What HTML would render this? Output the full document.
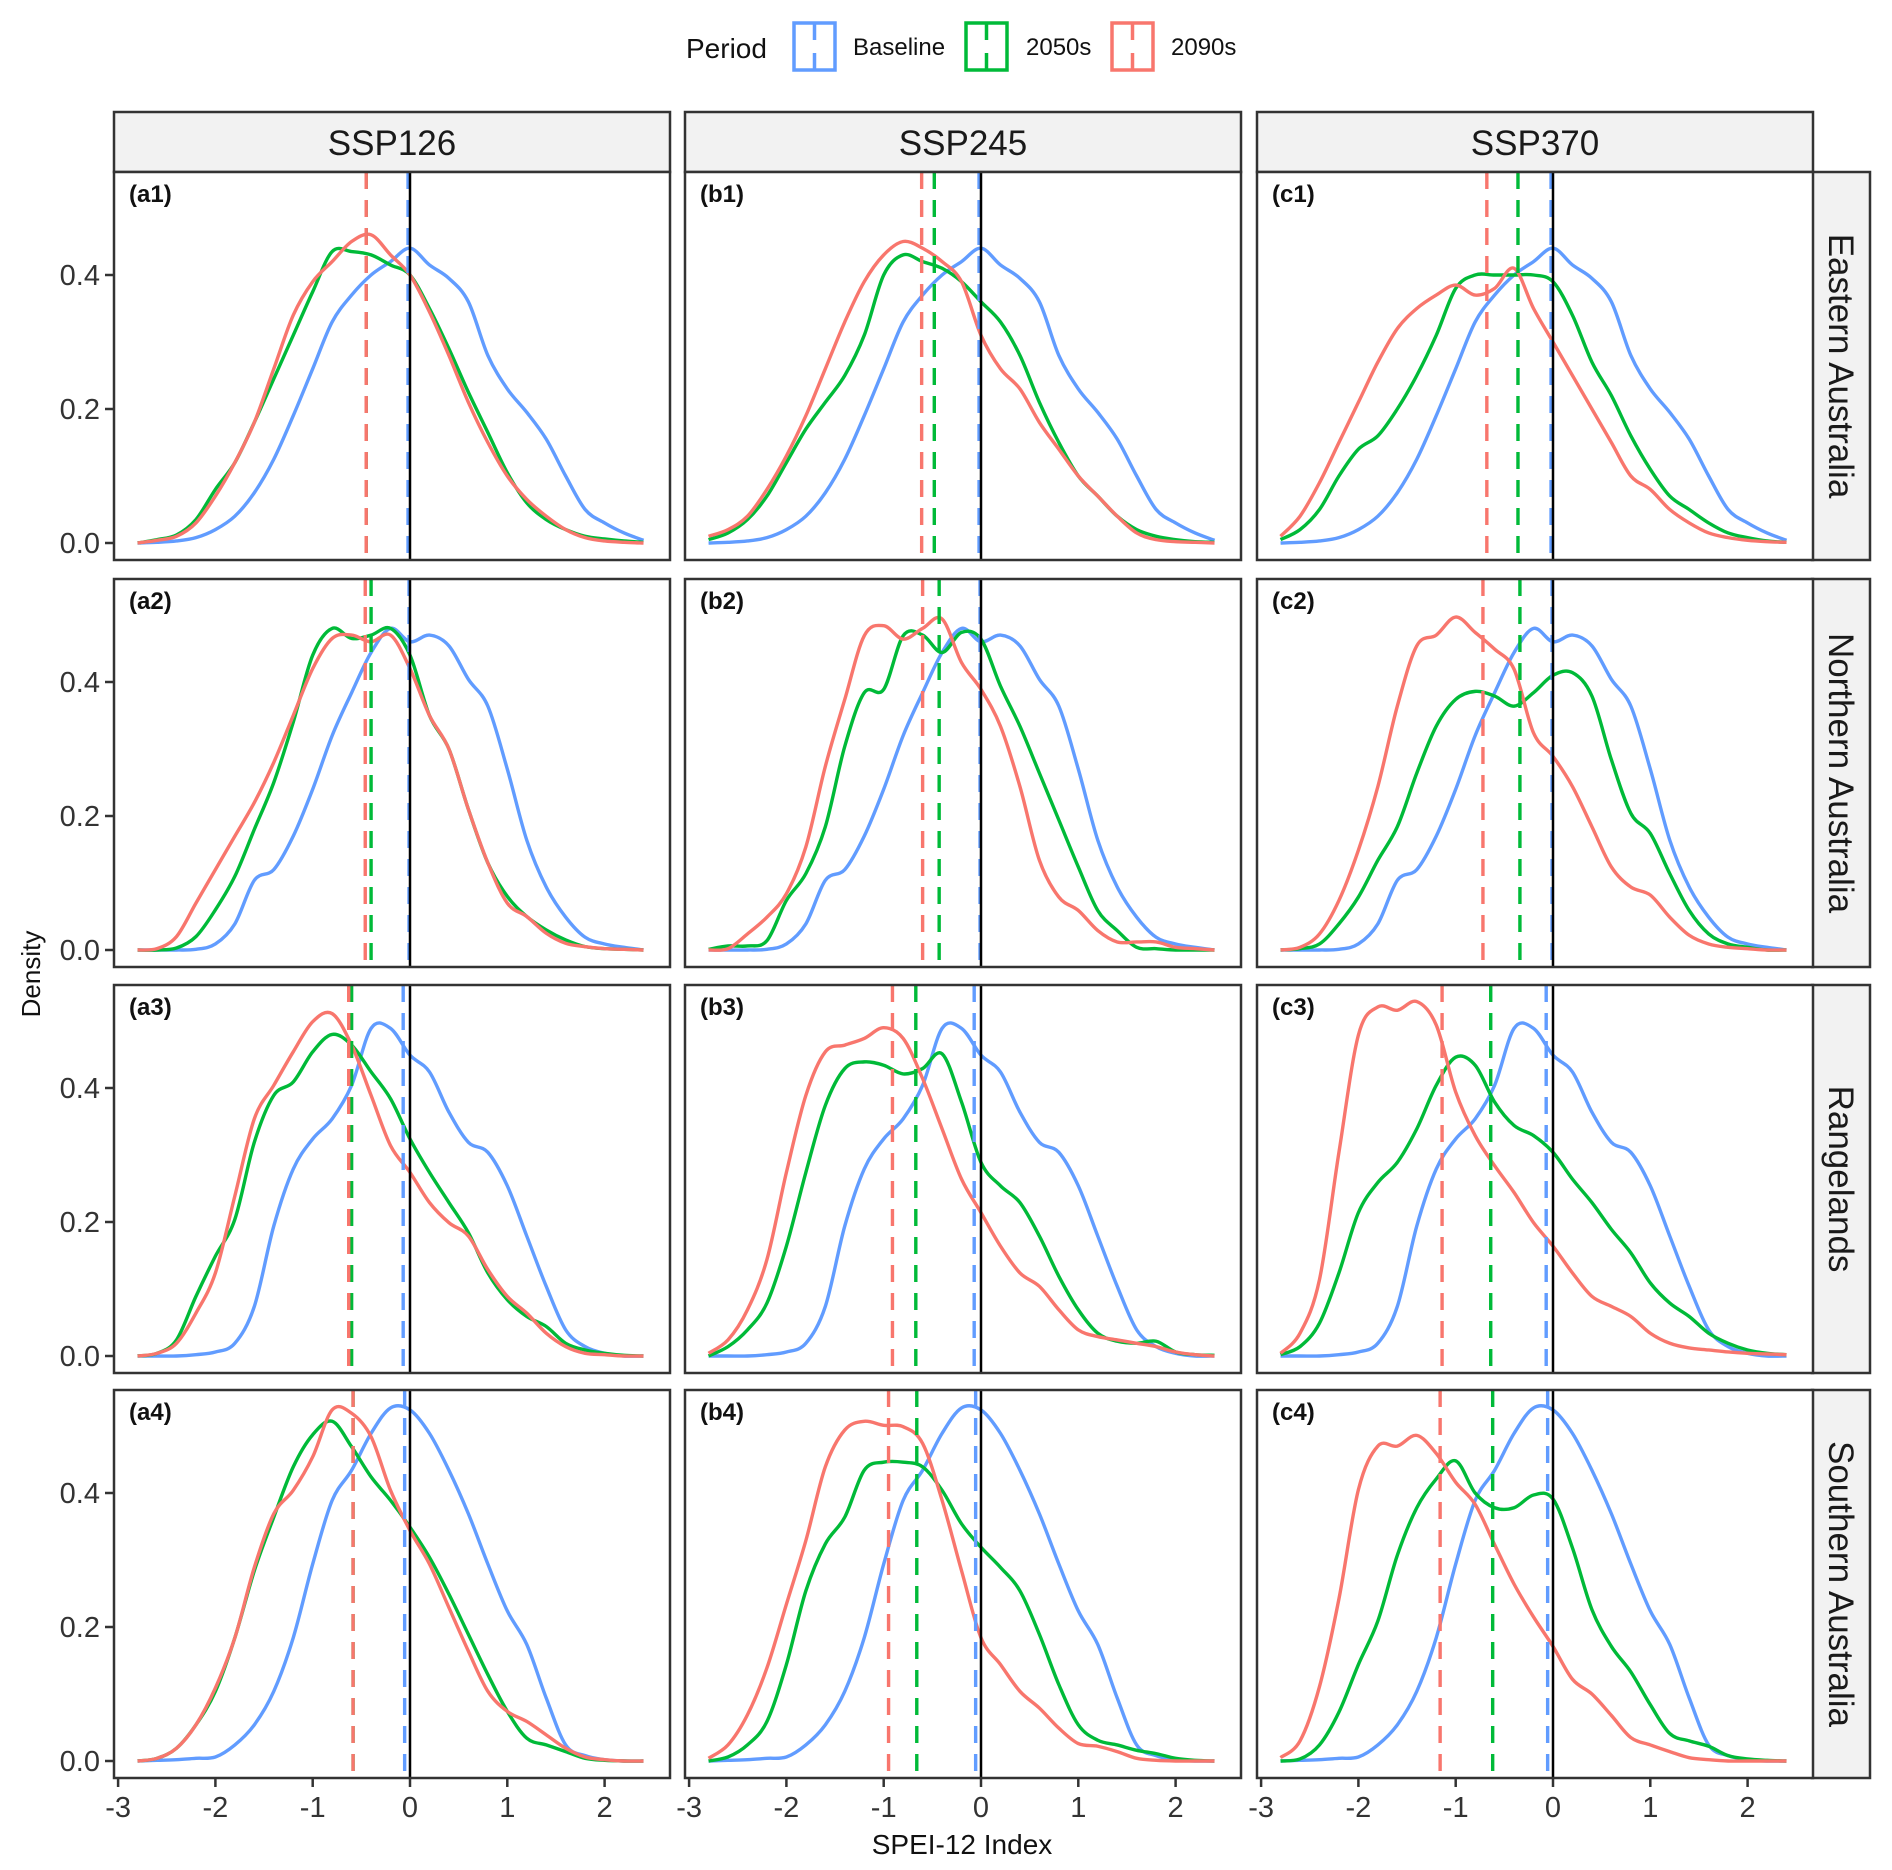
<!DOCTYPE html>
<html><head><meta charset="utf-8">
<style>
html,body{margin:0;padding:0;background:#fff;}
svg{display:block;font-family:"Liberation Sans",Arial,sans-serif;}
</style></head>
<body>
<svg id="chart" width="1892" height="1870" viewBox="0 0 1892 1870" xmlns="http://www.w3.org/2000/svg">
  <g id="legend">
    <text x="686" y="58" font-size="28" fill="#111">Period</text>
    <g>
      <rect x="794" y="23" width="41" height="47" fill="#fff" stroke="#619CFF" stroke-width="3.5"/>
      <line x1="814.5" y1="23" x2="814.5" y2="40" stroke="#619CFF" stroke-width="3.5"/>
      <line x1="814.5" y1="53" x2="814.5" y2="70" stroke="#619CFF" stroke-width="3.5"/>
      <text x="853" y="55" font-size="24" fill="#111">Baseline</text>
    </g>
    <g>
      <rect x="966" y="23" width="41" height="47" fill="#fff" stroke="#00BA38" stroke-width="3.5"/>
      <line x1="986.5" y1="23" x2="986.5" y2="40" stroke="#00BA38" stroke-width="3.5"/>
      <line x1="986.5" y1="53" x2="986.5" y2="70" stroke="#00BA38" stroke-width="3.5"/>
      <text x="1026" y="55" font-size="24" fill="#111">2050s</text>
    </g>
    <g>
      <rect x="1112" y="23" width="41" height="47" fill="#fff" stroke="#F8766D" stroke-width="3.5"/>
      <line x1="1132.5" y1="23" x2="1132.5" y2="40" stroke="#F8766D" stroke-width="3.5"/>
      <line x1="1132.5" y1="53" x2="1132.5" y2="70" stroke="#F8766D" stroke-width="3.5"/>
      <text x="1171" y="55" font-size="24" fill="#111">2090s</text>
    </g>
  </g>
  <text x="0" y="0" font-size="26" fill="#111" text-anchor="middle" transform="translate(40,974) rotate(-90)">Density</text>
  <text x="962" y="1854" font-size="28" fill="#111" text-anchor="middle">SPEI-12 Index</text>
  <g id="panels"></g>
</svg>
<script>
// ---- data ----
const xGrid = [-2.8,-2.6,-2.4,-2.2,-2.0,-1.8,-1.6,-1.4,-1.2,-1.0,-0.8,-0.6,-0.4,-0.2,0,0.2,0.4,0.6,0.8,1.0,1.2,1.4,1.6,1.8,2.0,2.2,2.4];
const scenarios = ["SSP126","SSP245","SSP370"];
const regions = ["Eastern Australia","Northern Australia","Rangelands","Southern Australia"];
const colLetters = ["a","b","c"];
const xTicks = [-3,-2,-1,0,1,2];
const yTicks = [0.0,0.2,0.4];
const yTickLabels = ["0.0","0.2","0.4"];

const baseline1 = [0,.001,.003,.008,.02,.04,.075,.125,.19,.26,.33,.37,.40,.42,.44,.415,.395,.36,.28,.23,.195,.155,.10,.05,.03,.015,.004];
const baseline2 = [0,0,0,.001,.009,.039,.104,.12,.17,.24,.32,.384,.444,.48,.46,.47,.454,.404,.364,.27,.164,.094,.049,.019,.009,.004,0];
const baseline3 = [0,0,0,.002,.006,.019,.074,.194,.279,.324,.354,.404,.489,.489,.449,.424,.364,.319,.304,.254,.179,.104,.039,.014,.004,0,0];
const baseline4 = [0,.001,.002,.004,.006,.024,.054,.104,.184,.294,.389,.434,.489,.527,.524,.489,.434,.369,.294,.224,.174,.094,.024,.008,.002,0,0];

const green_a1 = [0,.005,.012,.035,.08,.12,.18,.245,.31,.375,.435,.435,.43,.415,.40,.35,.29,.225,.165,.105,.06,.035,.02,.01,.006,.003,.001];
const red_a1   = [0,.004,.01,.03,.07,.12,.18,.26,.34,.39,.42,.45,.46,.43,.40,.345,.28,.21,.15,.10,.065,.04,.02,.008,.003,.001,0];
const green_b1 = [.005,.015,.035,.07,.12,.17,.21,.25,.31,.40,.43,.42,.41,.39,.36,.33,.28,.21,.15,.10,.07,.04,.02,.01,.005,.002,.001];
const red_b1   = [.01,.02,.04,.08,.13,.19,.26,.33,.39,.43,.45,.44,.42,.39,.31,.26,.23,.18,.14,.10,.07,.04,.015,.005,.002,.001,0];
const green_c1 = [.005,.02,.05,.1,.14,.16,.20,.25,.31,.38,.40,.40,.40,.40,.39,.34,.27,.22,.16,.11,.07,.05,.03,.015,.008,.003,.001];
const red_c1   = [.01,.04,.09,.15,.21,.27,.32,.35,.37,.385,.37,.38,.41,.35,.30,.25,.20,.15,.10,.08,.05,.03,.015,.008,.004,.002,.001];

const green_a2 = [0,0,.003,.02,.06,.11,.18,.25,.34,.44,.48,.465,.47,.48,.44,.35,.30,.21,.13,.08,.05,.03,.015,.005,.002,.001,0];
const red_a2   = [0,.002,.02,.07,.12,.17,.22,.28,.35,.42,.465,.47,.46,.47,.42,.35,.30,.21,.13,.07,.05,.025,.01,.005,.002,.001,0];
const green_b2 = [.001,.006,.006,.014,.074,.114,.184,.304,.384,.389,.469,.47,.444,.474,.464,.394,.334,.264,.194,.124,.059,.029,.004,.002,0,0,0];
const red_b2   = [0,.002,.024,.049,.084,.154,.274,.374,.469,.484,.464,.48,.494,.429,.389,.334,.244,.134,.079,.059,.029,.012,.012,.012,.004,.002,0];
const green_c2 = [0,.002,.009,.039,.079,.134,.184,.264,.334,.374,.386,.379,.364,.384,.41,.414,.379,.284,.204,.174,.114,.059,.024,.009,.004,0,0];
const red_c2   = [0,.004,.024,.074,.149,.244,.364,.454,.47,.497,.474,.449,.419,.324,.289,.244,.184,.124,.094,.082,.049,.022,.009,.004,.002,0,0];

const green_a3 = [0,.004,.024,.089,.149,.204,.319,.389,.409,.454,.48,.464,.424,.384,.324,.274,.229,.184,.124,.084,.059,.044,.019,.009,.004,.001,0];
const red_a3   = [0,.004,.019,.064,.124,.239,.354,.404,.454,.499,.511,.464,.389,.314,.274,.229,.199,.179,.129,.089,.064,.034,.014,.004,.002,0,0];
const green_b3 = [0,.014,.039,.079,.164,.274,.374,.429,.439,.434,.421,.429,.451,.379,.289,.254,.229,.179,.119,.069,.034,.022,.019,.022,.006,.002,.001];
const red_b3   = [.004,.024,.069,.144,.274,.389,.454,.464,.474,.49,.474,.414,.339,.264,.214,.164,.124,.104,.069,.039,.029,.024,.019,.014,.006,.002,0];
const green_c3 = [.002,.014,.049,.124,.214,.259,.289,.339,.404,.446,.434,.379,.344,.329,.304,.264,.229,.189,.154,.109,.079,.059,.034,.019,.009,.004,.002];
const red_c3   = [.004,.034,.114,.304,.479,.521,.516,.529,.494,.394,.329,.284,.244,.199,.164,.124,.089,.074,.059,.034,.019,.012,.009,.006,.004,.003,.002];

const green_a4 = [0,.004,.019,.054,.104,.184,.284,.364,.439,.487,.507,.469,.424,.389,.349,.304,.249,.189,.129,.074,.034,.024,.014,.004,.001,0,0];
const red_a4   = [0,.004,.019,.054,.109,.184,.289,.369,.404,.454,.524,.519,.484,.404,.344,.294,.229,.164,.104,.074,.059,.039,.019,.006,.002,0,0];
const green_b4 = [0,.006,.024,.059,.144,.254,.324,.364,.434,.446,.446,.439,.404,.354,.319,.289,.254,.189,.114,.054,.031,.024,.016,.011,.004,.001,0];
const red_b4   = [.004,.024,.069,.139,.234,.329,.439,.494,.507,.501,.499,.474,.389,.284,.184,.144,.104,.079,.049,.026,.022,.014,.004,.001,0,0,0];
const green_c4 = [0,.003,.024,.073,.144,.209,.307,.378,.421,.448,.40,.378,.378,.397,.391,.318,.226,.171,.133,.084,.041,.03,.022,.008,.003,.001,0];
const red_c4   = [.005,.03,.111,.242,.405,.47,.47,.486,.459,.416,.383,.323,.264,.215,.171,.122,.10,.068,.035,.024,.014,.005,.002,0,0,0,0];

const baselineMean = [-0.02,-0.01,-0.07,-0.055];
const green_meanA = [-0.45,-0.40,-0.60,-0.585];
const green_meanB = [-0.48,-0.43,-0.67,-0.66];
const green_meanC = [-0.36,-0.34,-0.64,-0.62];
const red_meanA = [-0.45,-0.46,-0.63,-0.585];
const red_meanB = [-0.61,-0.60,-0.91,-0.95];
const red_meanC = [-0.68,-0.72,-1.14,-1.16];

// ---- layout ----
const COLORS = {base:"#619CFF", green:"#00BA38", red:"#F8766D"};
const panelLeft = [114,685,1257];
const panelTop = [172,579,985,1390];
const PW = 556, PH = 388;
const X0OFF = 296, XUNIT = 97.3, Y0OFF = 371, YUNIT = 670;
const NS = "http://www.w3.org/2000/svg";
const root = document.getElementById('panels');

function mk(tag, attrs, parent){
  const e = document.createElementNS(NS, tag);
  for (const k in attrs) e.setAttribute(k, attrs[k]);
  (parent||root).appendChild(e);
  return e;
}
function xScale(c, v){ return panelLeft[c] + X0OFF + v*XUNIT; }
function yScale(r, v){ return panelTop[r] + Y0OFF - v*YUNIT; }
function smoothPath(pts){
  let d = "M"+pts[0][0].toFixed(2)+","+pts[0][1].toFixed(2);
  for (let i=0;i<pts.length-1;i++){
    const p0 = pts[i-1]||pts[i], p1=pts[i], p2=pts[i+1], p3=pts[i+2]||pts[i+1];
    const c1x = p1[0]+(p2[0]-p0[0])/6, c1y = p1[1]+(p2[1]-p0[1])/6;
    const c2x = p2[0]-(p3[0]-p1[0])/6, c2y = p2[1]-(p3[1]-p1[1])/6;
    d += " C"+c1x.toFixed(2)+","+c1y.toFixed(2)+" "+c2x.toFixed(2)+","+c2y.toFixed(2)+" "+p2[0].toFixed(2)+","+p2[1].toFixed(2);
  }
  return d;
}

const baselines = [baseline1,baseline2,baseline3,baseline4];
const greens = [[green_a1,green_a2,green_a3,green_a4],[green_b1,green_b2,green_b3,green_b4],[green_c1,green_c2,green_c3,green_c4]];
const reds = [[red_a1,red_a2,red_a3,red_a4],[red_b1,red_b2,red_b3,red_b4],[red_c1,red_c2,red_c3,red_c4]];
const greenMeans = [green_meanA,green_meanB,green_meanC];
const redMeans = [red_meanA,red_meanB,red_meanC];

const defs = mk('defs',{});
for (let c=0;c<3;c++){
  for (let r=0;r<4;r++){
    const cp = mk('clipPath',{id:'clip'+c+r},defs);
    mk('rect',{x:panelLeft[c],y:panelTop[r],width:PW,height:PH},cp);
  }
}

for (let c=0;c<3;c++){
  const g = mk('g',{});
  
  
  mk('rect',{x:panelLeft[c],y:112,width:PW,height:60,fill:"#f2f2f2",stroke:"#333",'stroke-width':2.5},g);
  const t = mk('text',{x:panelLeft[c]+PW/2,y:155,'font-size':35,'text-anchor':'middle',fill:'#1a1a1a'},g);
  t.textContent = scenarios[c];
}
for (let r=0;r<4;r++){
  const g = mk('g',{});
  
  
  mk('rect',{x:1812,y:panelTop[r],width:58,height:PH,fill:"#f2f2f2",stroke:"#333",'stroke-width':2.5},g);
  const cy = panelTop[r]+PH/2;
  const t = mk('text',{x:0,y:0,'font-size':35,'text-anchor':'middle',fill:'#1a1a1a',transform:'translate(1829,'+cy+') rotate(90)'},g);
  t.textContent = regions[r];
}

function densityLine(c, r, arr, color, name){
  const pts = xGrid.map((x,i)=>[xScale(c,x), yScale(r,arr[i])]);
  const p = mk('path',{d:smoothPath(pts),fill:'none',stroke:color,'stroke-width':3.4,'stroke-linejoin':'round','clip-path':'url(#clip'+c+r+')'});
  
  
}
function meanLine(c, r, v, color, name){
  const x = xScale(c,v);
  const l = mk('line',{x1:x,x2:x,y1:panelTop[r],y2:panelTop[r]+PH,stroke:color,'stroke-width':3.4,'stroke-dasharray':'17 11'});
  
  
}

for (let c=0;c<3;c++){
  for (let r=0;r<4;r++){
    const id = colLetters[c]+(r+1);
    const g = mk('g',{});
    
    
    mk('rect',{x:panelLeft[c],y:panelTop[r],width:PW,height:PH,fill:'#fff'},g);
    densityLine(c,r,baselines[r],COLORS.base,'density-baseline-'+id);
    densityLine(c,r,greens[c][r],COLORS.green,'density-2050s-'+id);
    densityLine(c,r,reds[c][r],COLORS.red,'density-2090s-'+id);
    meanLine(c,r,baselineMean[r],COLORS.base,'mean-baseline-'+id);
    meanLine(c,r,greenMeans[c][r],COLORS.green,'mean-2050s-'+id);
    meanLine(c,r,redMeans[c][r],COLORS.red,'mean-2090s-'+id);
    const zx = xScale(c,0);
    const zl = mk('line',{x1:zx,x2:zx,y1:panelTop[r],y2:panelTop[r]+PH,stroke:'#000','stroke-width':2.5});
    
    
    const border = mk('rect',{x:panelLeft[c],y:panelTop[r],width:PW,height:PH,fill:'none',stroke:'#333','stroke-width':2.5});
    
    
    const lab = mk('text',{x:panelLeft[c]+15,y:panelTop[r]+30,'font-size':24,'font-weight':'bold',fill:'#111'});
    
    
    lab.textContent = '('+id+')';
  }
}
for (let r=0;r<4;r++){
  yTicks.forEach((v,i)=>{
    const y = yScale(r,v);
    const tk = mk('line',{x1:105,x2:114,y1:y,y2:y,stroke:'#333','stroke-width':2.5});
    
    
    const t = mk('text',{x:100,y:y+10,'font-size':29,'text-anchor':'end',fill:'#333'});
    
    
    t.textContent = yTickLabels[i];
  });
}
for (let c=0;c<3;c++){
  xTicks.forEach(v=>{
    const x = xScale(c,v);
    const bot = panelTop[3]+PH;
    const tk = mk('line',{x1:x,x2:x,y1:bot,y2:bot+9,stroke:'#333','stroke-width':2.5});
    
    
    const t = mk('text',{x:x,y:bot+39,'font-size':29,'text-anchor':'middle',fill:'#333'});
    
    
    t.textContent = String(v);
  });
}
</script>
</body></html>
